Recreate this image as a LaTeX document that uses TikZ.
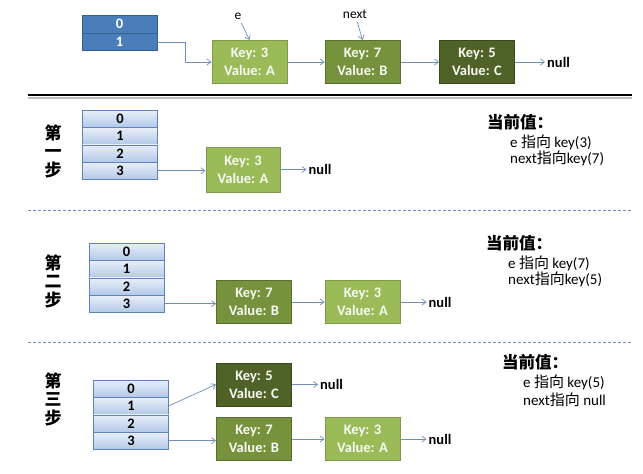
\documentclass[tikz,border=0pt]{standalone}
\usepackage{fontspec}
\setmainfont{Carlito}
\newfontfamily\cjk{Noto Sans CJK SC}
\usetikzlibrary{positioning, arrows.meta}
\newcommand{\zh}[1]{{\cjk #1}}
\definecolor{slotdark}{HTML}{4A7DBA}
\definecolor{slotdarkline}{HTML}{365F91}
\definecolor{slottop}{HTML}{E9EFF9}
\definecolor{slotbottom}{HTML}{B3C9E8}
\definecolor{slotline}{HTML}{5F84BB}
\definecolor{greenA}{HTML}{9BBB59}
\definecolor{greenAline}{HTML}{7F9A48}
\definecolor{greenB}{HTML}{76923C}
\definecolor{greenBline}{HTML}{5A6F2E}
\definecolor{greenC}{HTML}{4F6228}
\definecolor{greenCline}{HTML}{3A4A1C}
\definecolor{linkcol}{HTML}{6F8DB5}
\tikzset{slot/.style={draw=slotline,top color=slottop,bottom color=slotbottom,minimum width=75pt,minimum height=17pt,inner sep=0pt,font=\bfseries\fontsize{14.5}{15}\selectfont}}
\tikzset{slottop/.style={slot,draw=slotdarkline,fill=slotdark,top color=slotdark,bottom color=slotdark,text=white,minimum height=17.5pt}}
\tikzset{entry/.style={draw,line width=1pt,minimum width=75pt,minimum height=43pt,inner sep=0pt,align=center,text=white!92!greenA,font=\bfseries\fontsize{14.5}{18}\selectfont}}
\tikzset{keyA/.style={entry,fill=greenA,draw=greenAline}}
\tikzset{keyB/.style={entry,fill=greenB,draw=greenBline}}
\tikzset{keyC/.style={entry,fill=greenC,draw=greenCline}}
\tikzset{nul/.style={inner sep=2pt,font=\bfseries\fontsize{14.5}{16}\selectfont}}
\tikzset{link/.style={draw=linkcol,line width=0.7pt,-{Straight Barb[length=4pt,width=6pt]}}}
\tikzset{steplabel/.style={align=center,font=\cjk\bfseries\fontsize{17}{18.5}\selectfont}}
\tikzset{curhead/.style={anchor=west,inner sep=0pt,font=\cjk\bfseries\fontsize{16.5}{18}\selectfont}}
\tikzset{curline/.style={anchor=west,inner sep=0pt,font=\fontsize{15}{16}\selectfont}}

\begin{document}
\begin{tikzpicture}[x=1pt,y=-1pt]
		\useasboundingbox (0,0) rectangle (643,474);
		% Original table and list
		\node[slottop] (top0) at (119.5,24) {0};
		\node[slottop, below=0pt of top0] (top1) {1};
		\node[keyA] (topA) at (249.5,62) {Key: 3\\Value: A};
		\node[keyB] (topB) at (362.5,62) {Key: 7\\Value: B};
		\node[keyC] (topC) at (477,62) {Key: 5\\Value: C};
		\node[nul, right=30pt of topC] (topnull) {null};
		\node[font=\fontsize{13.5}{15}\selectfont] (e) at (238,16) {e};
		\node[font=\fontsize{13.5}{15}\selectfont] (next) at (355,14) {next};
		\draw[link] (top1.east) -- ++(28,0) |- (topA.west);
		\draw[link] (topA) -- (topB);
		\draw[link] (topB) -- (topC);
		\draw[link] (topC) -- (topnull);
		\draw[link] (e) -- (topA.north);
		\draw[link] (next) -- (topB.north);
		% Separators
		\draw[gray!50, line width=2pt] (28,97.5) -- (632,97.5);
		\draw[black, line width=2.5pt] (28,95) -- (632,95);
		\draw[linkcol, dash pattern=on 3pt off 2pt] (28,210) -- (632,210);
		\draw[linkcol, dash pattern=on 3pt off 2pt] (28,342) -- (632,342);
		% Step one
		\node[steplabel] (oneL) at (53,151) {第\\一\\步};
		\node[slot] (oneT0) at (120,118.5) {0};
		\node[slot, below=0pt of oneT0] (oneT1) {1};
		\node[slot, below=0pt of oneT1] (oneT2) {2};
		\node[slot, below=0pt of oneT2] (oneT3) {3};
		\node[keyA, minimum width=74pt, minimum height=45pt] (oneA) at (243,169.5) {Key: 3\\Value: A};
		\node[nul, right=26pt of oneA] (onenull) {null};
		\draw[link] (oneT3.east) -- (oneA.west |- oneT3.east);
		\draw[link] (oneA) -- (onenull);
		\node[curhead] (oneH) at (487,122) {当前值：};
		\node[curline] (oneE) at (510,142) {e \zh{指向} key(3)};
		\node[curline] (oneN) at (510,158) {next\zh{指向}key(7)};
		% Step two
		\node[steplabel] (twoL) at (53,281) {第\\二\\步};
		\node[slot] (twoT0) at (126.5,251.5) {0};
		\node[slot, below=0pt of twoT0] (twoT1) {1};
		\node[slot, below=0pt of twoT1] (twoT2) {2};
		\node[slot, below=0pt of twoT2] (twoT3) {3};
		\node[keyB] (twoB) at (254,302) {Key: 7\\Value: B};
		\node[keyA] (twoA) at (362.5,302) {Key: 3\\Value: A};
		\node[nul, right=26pt of twoA] (twonull) {null};
		\draw[link] (twoT3.east) -- (twoB.west |- twoT3.east);
		\draw[link] (twoB) -- (twoA);
		\draw[link] (twoA) -- (twonull);
		\node[curhead] (twoH) at (486,243) {当前值：};
		\node[curline] (twoE) at (508,263) {e \zh{指向} key(7)};
		\node[curline] (twoN) at (508,279) {next\zh{指向}key(5)};
		% Step three
		\node[steplabel] (thrL) at (53,399) {第\\三\\步};
		\node[slot] (thrT0) at (131,388.5) {0};
		\node[slot, below=0pt of thrT0] (thrT1) {1};
		\node[slot, below=0pt of thrT1] (thrT2) {2};
		\node[slot, below=0pt of thrT2] (thrT3) {3};
		\node[keyC] (thrC) at (254,384.5) {Key: 5\\Value: C};
		\node[keyB] (thrB) at (254,439) {Key: 7\\Value: B};
		\node[keyA] (thrA) at (362.5,439) {Key: 3\\Value: A};
		\node[nul, right=26pt of thrC] (thrnullC) {null};
		\node[nul, right=26pt of thrA] (thrnullA) {null};
		\draw[link] (thrT1.east) -- (thrC.west);
		\draw[link] (thrT3.east) -- (thrB.west |- thrT3.east);
		\draw[link] (thrC) -- (thrnullC);
		\draw[link] (thrB) -- (thrA);
		\draw[link] (thrA) -- (thrnullA);
		\node[curhead] (thrH) at (502,362) {当前值：};
		\node[curline] (thrE) at (523,382) {e \zh{指向} key(5)};
		\node[curline] (thrN) at (523,400) {next\zh{指向} null};
	\end{tikzpicture}
\end{document}
